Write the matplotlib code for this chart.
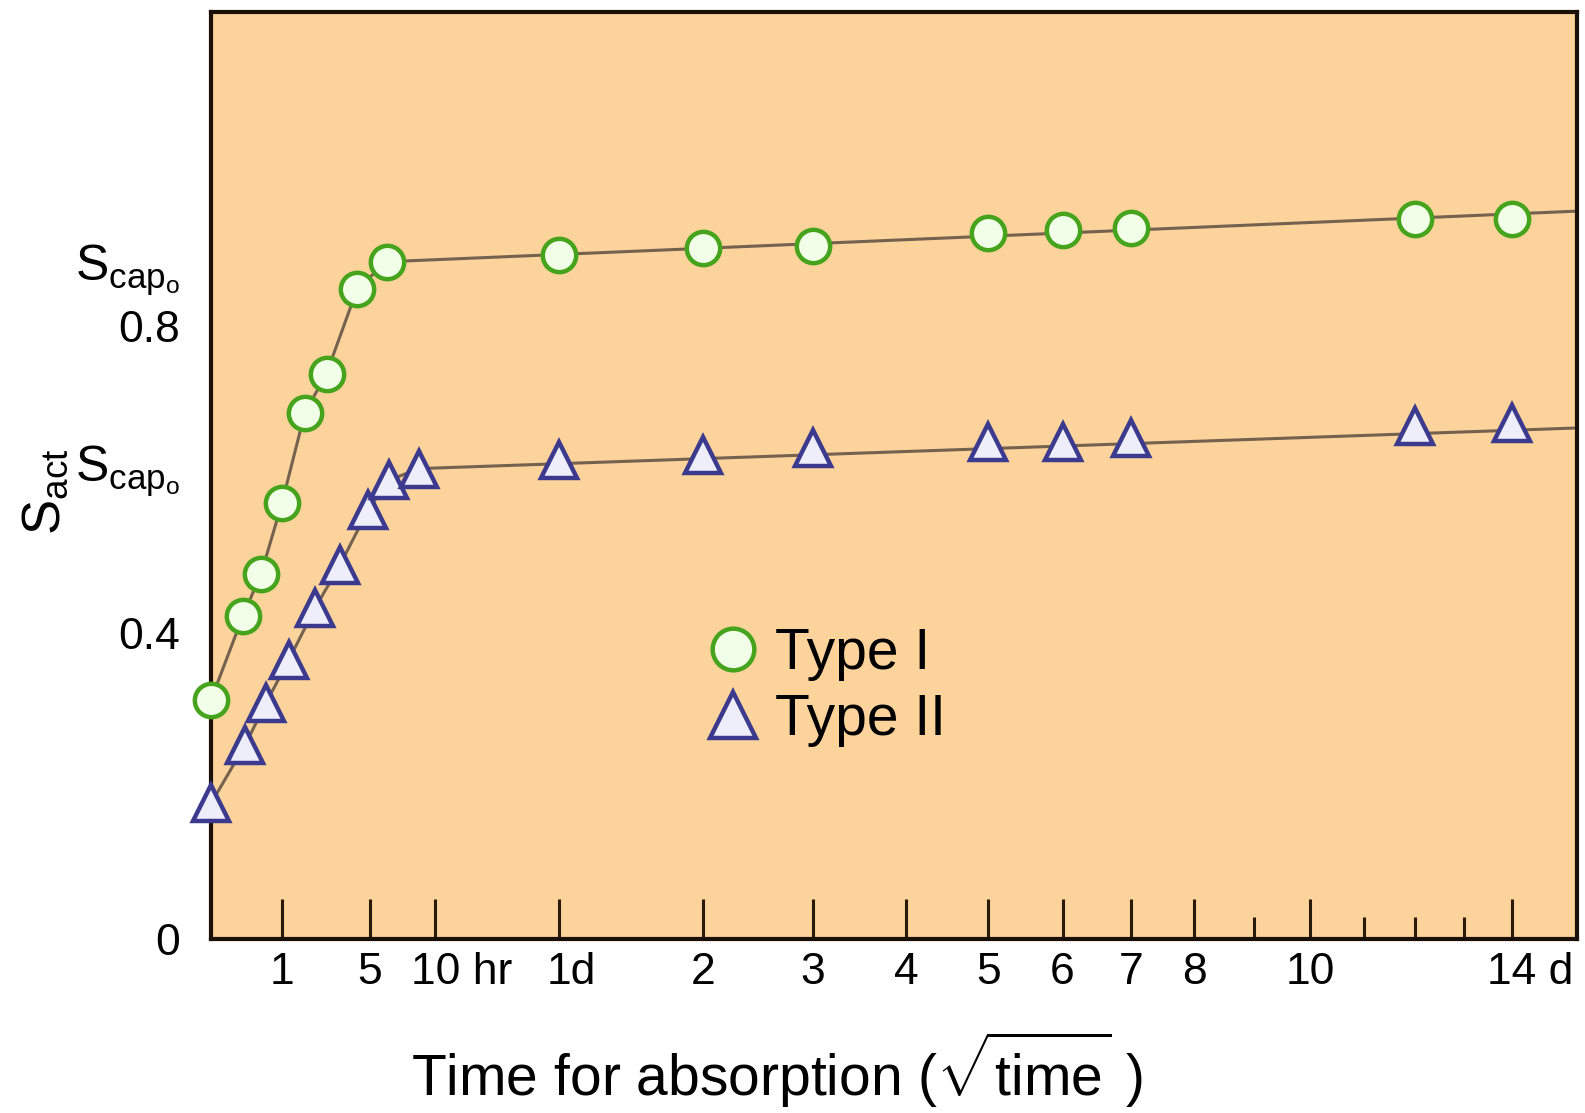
import numpy as np
import matplotlib.pyplot as plt
from matplotlib.transforms import ScaledTranslation

plt.rcParams['font.family'] = ['Liberation Sans', 'DejaVu Sans']
plt.rcParams['mathtext.fontset'] = 'custom'
plt.rcParams['mathtext.rm'] = 'Liberation Sans'
plt.rcParams['mathtext.it'] = 'Liberation Sans'
plt.rcParams['mathtext.bf'] = 'Liberation Sans'

# time in hours, S_act values
type1_hours = [0, 0.2, 0.5, 1, 1.75, 2.65, 4.25, 6.15, 24, 48, 72, 120, 144, 168, 288, 336]
type1_sact = [0.312, 0.421, 0.477, 0.569, 0.687, 0.738, 0.849, 0.884,
              0.893, 0.902, 0.904, 0.921, 0.926, 0.928, 0.940, 0.940]
type2_hours = [0, 0.23, 0.6, 1.2, 2.15, 3.3, 4.9, 6.3, 8.6, 24, 48, 72, 120, 144, 168, 288, 336]
type2_sact = [0.177, 0.253, 0.308, 0.364, 0.432, 0.488, 0.560, 0.599, 0.614,
              0.625, 0.632, 0.641, 0.649, 0.649, 0.654, 0.669, 0.674]

# drawn trend lines
line1_hours = [0, 0.2, 0.5, 1, 1.75, 2.65, 4.25, 6.15, 370]
line1_sact = [0.312, 0.421, 0.477, 0.569, 0.687, 0.738, 0.849, 0.884, 0.950]
line2_hours = [0, 0.23, 0.6, 1.2, 2.15, 3.3, 4.9, 6.3, 8.6, 370]
line2_sact = [0.177, 0.253, 0.308, 0.364, 0.432, 0.488, 0.560, 0.599, 0.614, 0.667]

tick_hours = [1, 5, 10, 24, 48, 72, 96, 120, 144, 168, 192, 240, 336]
tick_labels = ['1', '5', '10 hr', '1d', '2', '3', '4', '5', '6', '7', '8', '10', '14 d']
minor_hours = [216, 264, 288, 312]

scap1 = 0.884
scap2 = 0.621

bg = '#FCD39B'
green = '#45A31C'
blue = '#3B3A8E'
line_col = '#74624E'

fig = plt.figure(figsize=(15.85, 11.13), dpi=100)
ax = fig.add_axes([211 / 1585, 174 / 1113, 1366 / 1585, 927 / 1113])
ax.set_facecolor(bg)

ax.plot(np.sqrt(line1_hours), line1_sact, color=line_col, lw=2.2, zorder=2)
ax.plot(np.sqrt(line2_hours), line2_sact, color=line_col, lw=2.2, zorder=2)
h1, = ax.plot(np.sqrt(type1_hours), type1_sact, 'o', ms=24, mfc='#F2FFE8', mec=green, mew=3.2,
              clip_on=False, zorder=3, label='Type I')
h2, = ax.plot(np.sqrt(type2_hours), type2_sact, '^', ms=26, mfc='#EEEEFA', mec=blue, mew=3.2,
              clip_on=False, zorder=3, label='Type II')

ax.set_xlim(0, 19.25)
ax.set_ylim(0, 1.21)

fs = 32
ax.set_xticks(np.sqrt(tick_hours))
ax.set_xticklabels(tick_labels, fontsize=fs)
ax.set_xticks(np.sqrt(minor_hours), minor=True)
ax.tick_params(axis='x', which='major', direction='in', length=29, width=2.2, color='#2a1a0a', pad=9)
ax.tick_params(axis='x', which='minor', direction='in', length=16, width=2.2, color='#2a1a0a')

# keep the number centred on its tick, unit trailing
shifts = {'10 hr': 17.8, '1d': 8.9, '14 d': 17.8}
for lab in ax.get_xticklabels():
    if lab.get_text() in shifts:
        lab.set_horizontalalignment('left')
        lab.set_transform(lab.get_transform() + ScaledTranslation(-shifts[lab.get_text()] / 72, 0, fig.dpi_scale_trans))

ax.set_yticks([0, 0.4, scap2, 0.8, scap1])
ax.set_yticklabels(['0', '0.4', r'$\mathrm{S_{cap_o}}$', '0.8', r'$\mathrm{S_{cap_o}}$'], fontsize=fs)
ax.tick_params(axis='y', length=0, pad=22)
for lab in ax.get_yticklabels():
    if 'cap' in lab.get_text():
        lab.set_fontsize(36)

for s in ax.spines.values():
    s.set_linewidth(3)
    s.set_color('#1a1008')

ax.set_xlabel(r'Time for absorption ($\sqrt{\mathrm{time}}$ )', fontsize=41)
ax.xaxis.set_label_coords(0.414, -0.098)
ax.set_ylabel(r'$\mathrm{S_{act}}$', fontsize=38)
ax.yaxis.set_label_coords(-0.103, 0.482)

ax.legend(handles=[h1, h2], loc='center left', bbox_to_anchor=(0.359, 0.272), frameon=False,
          fontsize=41, handlelength=1.1, handletextpad=0.2, labelspacing=0.2, borderpad=0,
          borderaxespad=0, markerscale=1.25)

plt.savefig('out.png')
